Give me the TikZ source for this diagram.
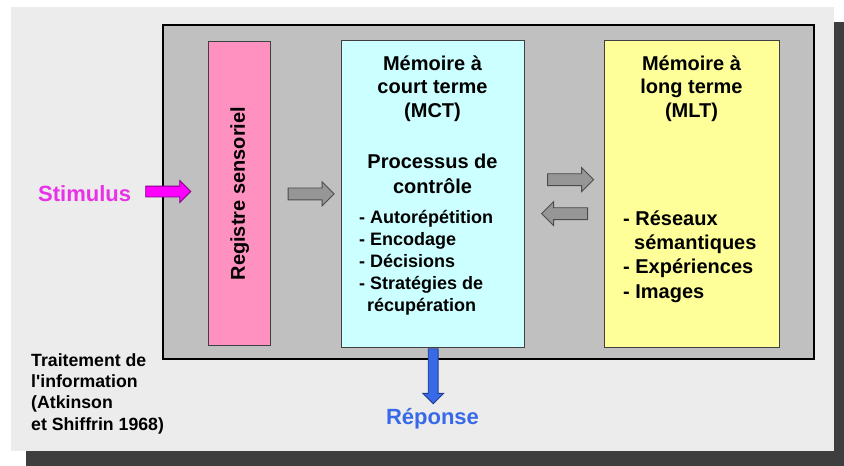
\documentclass[tikz,border=0pt]{standalone}
\usepackage{fontspec}
\setmainfont{Liberation Sans}
\usetikzlibrary{calc,shapes.arrows}

\definecolor{panelgray}{RGB}{236,236,236}
\definecolor{boxgray}{RGB}{192,192,192}
\definecolor{shadowgray}{RGB}{62,62,62}
\definecolor{regpink}{RGB}{255,145,192}
\definecolor{mctcyan}{RGB}{204,255,255}
\definecolor{mltyellow}{RGB}{255,255,153}
\definecolor{arrowgray}{RGB}{150,150,150}
\definecolor{stimmag}{RGB}{232,50,232}
\definecolor{stimfill}{RGB}{255,0,255}
\definecolor{repblue}{RGB}{55,105,232}

% all sizes in px of the slide (1px = 1pt)
\def\boxtop{40}
\def\boxh{307}
\def\lsep{22}

\begin{document}
\begin{tikzpicture}[x=1pt,y=-1pt,
    membox/.style={draw=black!75, line width=1.3pt, inner sep=0pt, anchor=north west},
    blkarrow/.style={single arrow, draw=black!70, line width=0.9pt, fill=arrowgray,
        inner sep=0pt, inner ysep=5.5pt, minimum width=0pt,
        single arrow head extend=6pt, minimum height=46pt},
    hd/.style={font=\bfseries\fontsize{20}{24}\selectfont, inner sep=0pt, anchor=base},
    itm/.style={font=\bfseries\fontsize{18}{22}\selectfont, inner sep=0pt, anchor=base west},
    itmb/.style={font=\bfseries\fontsize{20}{24}\selectfont, inner sep=0pt, anchor=base west},
    note/.style={font=\bfseries\fontsize{17.7}{21}\selectfont, inner sep=0pt, anchor=base west}]

\useasboundingbox (0,0) rectangle (844,466);

%slide with its shadow
\fill[shadowgray] (26,22) rectangle (844,466);
\fill[panelgray] (11,7) rectangle (834,451);

%the grey frame round the three stores
\draw[fill=boxgray, line width=1.8pt] (163,25) rectangle (814,359);

%the three stores
\node[membox, fill=regpink, minimum width=62pt, minimum height=304pt] (reg) at (208,41) {};
\node[membox, fill=mctcyan, minimum width=183pt, minimum height=\boxh pt] (mct) at (341,\boxtop) {};
\node[membox, fill=mltyellow, minimum width=175pt, minimum height=\boxh pt] (mlt) at (604,\boxtop) {};

\node[font=\bfseries\fontsize{20}{24}\selectfont, rotate=90, inner sep=0pt] (regtxt) at (reg.center) {Registre sensoriel};

%short term memory
\foreach \t [count=\i] in {Mémoire à, court terme, {(MCT)}}
    \node[hd] (mcth\i) at (432.5,{70+23.5*(\i-1)}) {\t};
\foreach \t [count=\i] in {Processus de, contrôle}
    \node[hd] (proc\i) at (432.5,{168+25*(\i-1)}) {\t};
\foreach \t [count=\i] in {- Autorépétition, - Encodage, - Décisions, - Stratégies de}
    \node[itm] (ctl\i) at (359,{223+\lsep*(\i-1)}) {\t};
\node[itm] (ctl5) at (367,311) {récupération};

%long term memory
\foreach \t [count=\i] in {Mémoire à, long terme, {(MLT)}}
    \node[hd] (mlth\i) at (691.5,{70+23.5*(\i-1)}) {\t};
\node[itmb] (mlti1) at (623,225) {- Réseaux};
\node[itmb] (mlti2) at (634,249) {sémantiques};
\node[itmb] (mlti3) at (623,273.5) {- Expériences};
\node[itmb] (mlti4) at (623,298) {- Images};

%arrows
\node[font=\bfseries\fontsize{22}{26}\selectfont, text=stimmag, inner sep=0pt, anchor=base west] (stim) at (38,201.5) {Stimulus};
\node[blkarrow, fill=stimfill, draw=stimfill!50!black, inner ysep=5pt, single arrow head extend=5.5pt,
    minimum height=45pt] (stimarr) at (165.5,191.5) {};
\node[blkarrow] (regarr) at ($(reg.east)!0.5!(mct.west)+(2,0)$) {};
\node[blkarrow] (toarr) at ($(mct.east)!0.5!(mlt.west)+(3,-14.5)$) {};
\node[blkarrow, shape border rotate=180] (backarr) at ($(mct.east)!0.5!(mlt.west)+(3,19.5)$) {};
\node[blkarrow, fill=repblue, draw=black!40!repblue, inner ysep=4.5pt, single arrow head extend=5.5pt,
    minimum height=55pt, rotate=-90, anchor=tail] (outarr) at (mct.south) {};
\node[font=\bfseries\fontsize{22}{26}\selectfont, text=repblue, inner sep=0pt, anchor=base] (rep) at (432.5,424) {Réponse};

%caption bottom left
\foreach \t [count=\i] in {Traitement de, l\textquotesingle information, {(Atkinson}, et Shiffrin 1968)}
    \node[note] (cap\i) at (31,{366+21.4*(\i-1)}) {\t};

\end{tikzpicture}
\end{document}
